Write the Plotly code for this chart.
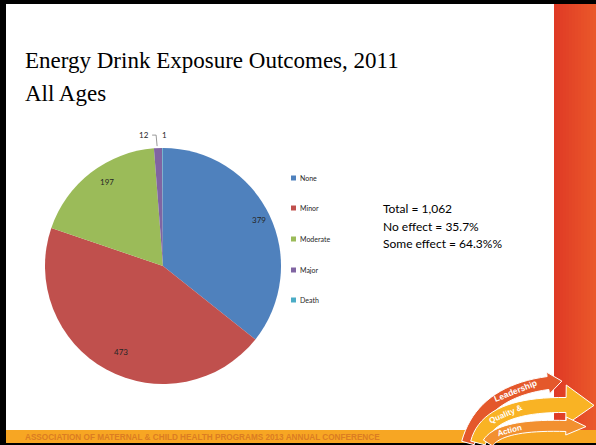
import math
import plotly.graph_objects as go

# ---- data ----
categories = ["None", "Minor", "Moderate", "Major", "Death"]
values = [379, 473, 197, 12, 1]
colors = ["#4F81BD", "#C0504D", "#9BBB59", "#8064A2", "#4BACC6"]
title_lines = ["Energy Drink Exposure Outcomes, 2011", "All Ages"]
summary_lines = ["Total = 1,062", "No effect = 35.7%", "Some effect = 64.3%%"]
footer_text = "ASSOCIATION OF MATERNAL & CHILD HEALTH PROGRAMS 2013 ANNUAL CONFERENCE"
logo_words = ["Leadership", "Quality &", "Action"]

W, H = 596, 445


def px(x):
    return x / W


def py(y):
    return 1 - y / H


def path(points, close=True):
    s = "M " + " L ".join(f"{px(x):.5f},{py(y):.5f}" for x, y in points)
    return s + (" Z" if close else "")


def bez(p0, c, p1, t):
    x = (1 - t) ** 2 * p0[0] + 2 * (1 - t) * t * c[0] + t ** 2 * p1[0]
    y = (1 - t) ** 2 * p0[1] + 2 * (1 - t) * t * c[1] + t ** 2 * p1[1]
    dx = 2 * (1 - t) * (c[0] - p0[0]) + 2 * t * (p1[0] - c[0])
    dy = 2 * (1 - t) * (c[1] - p0[1]) + 2 * t * (p1[1] - c[1])
    n = math.hypot(dx, dy)
    return x, y, dx / n, dy / n


def arrow_band(p0, c, p1, half, head_half, head_len, n=20):
    left, right = [], []
    for i in range(n + 1):
        x, y, tx, ty = bez(p0, c, p1, i / n)
        nx, ny = -ty, tx
        left.append((x + nx * half, y + ny * half))
        right.append((x - nx * half, y - ny * half))
    x, y, tx, ty = bez(p0, c, p1, 1)
    nx, ny = -ty, tx
    head = [(x + nx * head_half, y + ny * head_half), (x + tx * head_len, y + ty * head_len),
            (x - nx * head_half, y - ny * head_half)]
    return left + head + right[::-1]


# pie geometry (pixels)
CX, CY, R = 163, 266, 118

fig = go.Figure()
fig.add_trace(go.Pie(
    labels=categories,
    values=values,
    marker=dict(colors=colors, line=dict(width=0)),
    sort=False,
    direction="clockwise",
    rotation=0,
    textinfo="none",
    hoverinfo="label+value",
    showlegend=False,
    domain=dict(x=[px(CX - R), px(CX + R)], y=[py(CY + R), py(CY - R)]),
))

shapes = []
annotations = []

# slide frame: red side bar as a gradient of thin strips
c0, c1 = (0xDF, 0x3A, 0x25), (0xEA, 0x58, 0x2A)
nstrip = 14
x_start, x_end = 554, 596
for i in range(nstrip):
    f = i / (nstrip - 1)
    col = "rgb({},{},{})".format(*[round(a + (b - a) * f) for a, b in zip(c0, c1)])
    xa = x_start + (x_end - x_start) * i / nstrip
    xb = x_start + (x_end - x_start) * (i + 1) / nstrip + 0.6
    shapes.append(dict(type="rect", xref="paper", yref="paper", x0=px(xa), x1=px(min(xb, 596)),
                       y0=py(445), y1=py(0), fillcolor=col, line=dict(width=0), layer="below"))
shapes.append(dict(type="rect", xref="paper", yref="paper", x0=px(0), x1=px(596), y0=py(443), y1=py(430),
                   fillcolor="#F7A623", line=dict(width=0)))
for (x0, y0, x1, y1) in [(0, 0, 596, 4), (0, 0, 6, 445), (0, 443, 596, 445)]:
    shapes.append(dict(type="rect", xref="paper", yref="paper", x0=px(x0), x1=px(x1), y0=py(y1), y1=py(y0),
                       fillcolor="#000000", line=dict(width=0)))

# logo (approximate arrows)
logo_bands = [
    (((468, 443), (482, 392), (548, 383)), 6.5, 11, 14, "#E4582B"),
    (((478, 443), (488, 404), (566, 405)), 7.5, 20, 28, "#F9B324"),
    (((488, 443), (500, 424), (566, 426)), 5.5, 9, 20, "#F29030"),
]
for (p0, c, p1), half, hh, hl, col in logo_bands:
    shapes.append(dict(type="path", xref="paper", yref="paper",
                       path=path(arrow_band(p0, c, p1, half, hh, hl)), fillcolor=col,
                       line=dict(color="white", width=1)))
for word, ((p0, c, p1), half, hh, hl, col), t, sz in zip(
        logo_words, logo_bands, [0.72, 0.5, 0.45], [8.5, 8, 8]):
    x, y, tx, ty = bez(p0, c, p1, t)
    ang = math.degrees(math.atan2(ty, tx))
    annotations.append(dict(x=px(x), y=py(y), xref="paper", yref="paper", text=f"<b>{word}</b>",
                            showarrow=False, textangle=ang, xanchor="center", yanchor="middle",
                            font=dict(family="Liberation Sans", size=sz, color="white")))

# footer
annotations.append(dict(x=px(23), y=py(437), xref="paper", yref="paper", text=f"<b>{footer_text}</b>",
                        showarrow=False, xanchor="left", yanchor="middle",
                        font=dict(family="Liberation Sans", size=8.2, color="#DB7D22")))

# title
for line, yc in zip(title_lines, [60, 93]):
    annotations.append(dict(x=px(23), y=py(yc), xref="paper", yref="paper", text=line, showarrow=False,
                            xanchor="left", yanchor="middle",
                            font=dict(family="Liberation Serif", size=23, color="#000000")))

# slice value labels computed from data
total = sum(values)
cum = 0
mids = []
for v in values:
    mids.append((cum + v / 2) / total * 2 * math.pi)
    cum += v
for i, (v, a) in enumerate(zip(values, mids)):
    if v / total > 0.05:
        x = CX + 0.9 * R * math.sin(a)
        y = CY - 0.9 * R * math.cos(a)
        annotations.append(dict(x=px(x), y=py(y), xref="paper", yref="paper", text=str(v), showarrow=False,
                                font=dict(family="Lato", size=8, color="#262626")))

# small slices: outside labels with leader line
a_major = mids[3]
ex, ey = CX + R * math.sin(a_major), CY - R * math.cos(a_major)
annotations.append(dict(x=px(ex - 7), y=py(ey - 13), xref="paper", yref="paper", text=str(values[3]),
                        showarrow=False, xanchor="right", yanchor="middle",
                        font=dict(family="Lato", size=8, color="#262626")))
shapes.append(dict(type="path", xref="paper", yref="paper",
                   path=path([(ex - 6, ey - 13), (ex - 2, ey - 13), (ex - 1, ey - 2)], close=False),
                   line=dict(color="#7F7F7F", width=0.8)))
a_death = mids[4]
dx_, dy_ = CX + R * math.sin(a_death), CY - R * math.cos(a_death)
annotations.append(dict(x=px(dx_ - 3), y=py(dy_ - 13), xref="paper", yref="paper", text=str(values[4]),
                        showarrow=False, xanchor="left", yanchor="middle",
                        font=dict(family="Lato", size=8, color="#262626")))

# legend (manual)
leg_y = [178, 208, 239, 270, 300]
for cat, col, yc in zip(categories, colors, leg_y):
    shapes.append(dict(type="rect", xref="paper", yref="paper", x0=px(291), x1=px(296), y0=py(yc + 2.5),
                       y1=py(yc - 2.5), fillcolor=col, line=dict(width=0)))
    annotations.append(dict(x=px(298), y=py(yc), xref="paper", yref="paper", text=cat, showarrow=False,
                            xanchor="left", yanchor="middle",
                            font=dict(family="Lato", size=7, color="#262626")))

# summary text
for line, yc in zip(summary_lines, [208, 226, 243]):
    annotations.append(dict(x=px(381), y=py(yc), xref="paper", yref="paper", text=line, showarrow=False,
                            xanchor="left", yanchor="middle",
                            font=dict(family="Lato", size=12, color="#000000")))

fig.update_layout(
    width=W, height=H,
    margin=dict(l=0, r=0, t=0, b=0),
    paper_bgcolor="white",
    plot_bgcolor="white",
    shapes=shapes,
    annotations=annotations,
)

fig.write_html("out.html", config={"displayModeBar": False},
               post_script="document.body.style.margin='0px';document.body.style.overflow='hidden';")
